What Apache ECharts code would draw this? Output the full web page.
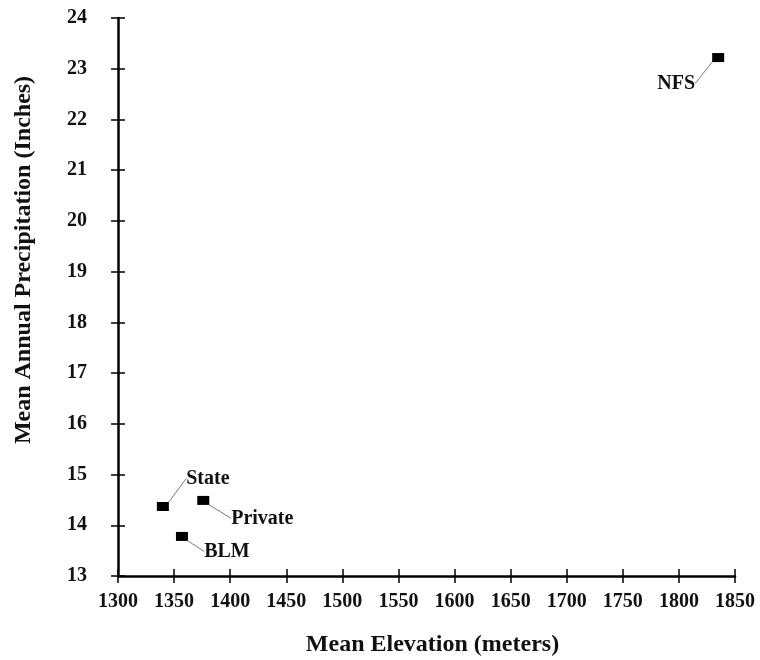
<!DOCTYPE html>
<html><head><meta charset="utf-8">
<script src="https://cdn.jsdelivr.net/npm/echarts@6/dist/echarts.min.js"></script>
<style>html,body{margin:0;padding:0;background:#fff}#c{width:760px;height:660px}</style>
</head><body><div id="c"></div>
<script>
var owners = ['State', 'Private', 'BLM', 'NFS'];
var elevation = [1340, 1376, 1357, 1835];
var precipitation = [14.37, 14.49, 13.78, 23.22];
var xTicks = [1300, 1350, 1400, 1450, 1500, 1550, 1600, 1650, 1700, 1750, 1800, 1850];
var yTicks = [13, 14, 15, 16, 17, 18, 19, 20, 21, 22, 23, 24];
var labelShift = [[45, -28], [59, 18], [45, 15], [-42, 26]];

var FONT = '"Liberation Serif", "DejaVu Serif", serif';
var chart = echarts.init(document.getElementById('c'));
var pts = owners.map(function (n, i) { return { name: n, value: [elevation[i], precipitation[i]] }; });
var tickStyle = { color: '#000', width: 1.5 };
var xMin = xTicks[0], xMax = xTicks[xTicks.length - 1], yMin = yTicks[0], yMax = yTicks[yTicks.length - 1];
chart.setOption({
  animation: false,
  grid: { left: 118, right: 25, top: 18, bottom: 84, containLabel: false, outerBoundsMode: 'none' },
  xAxis: [{
    type: 'value', min: xMin, max: xMax, interval: 50,
    name: 'Mean Elevation (meters)', nameLocation: 'middle', nameGap: 57,
    nameTextStyle: { fontFamily: FONT, fontWeight: 'bold', fontSize: 24, color: '#111', padding: [0, 0, 0, 12] },
    axisLine: { lineStyle: { color: '#000', width: 2.5 } },
    axisTick: { show: true, length: 7, inside: false, lineStyle: tickStyle },
    axisLabel: { fontFamily: FONT, fontWeight: 'bold', fontSize: 20, color: '#111', margin: 16,
      formatter: function (v) { return String(v); } },
    splitLine: { show: false }
  }, {
    type: 'value', min: xMin, max: xMax, interval: 50, position: 'bottom',
    axisLine: { show: false },
    axisTick: { show: true, length: 7, inside: true, lineStyle: tickStyle },
    axisLabel: { show: false }, splitLine: { show: false }
  }],
  yAxis: [{
    type: 'value', min: yMin, max: yMax, interval: 1,
    name: 'Mean Annual Precipitation (Inches)', nameLocation: 'middle', nameGap: 82,
    nameTextStyle: { fontFamily: FONT, fontWeight: 'bold', fontSize: 24, color: '#111', padding: [0, 0, 0, 74] },
    axisLine: { lineStyle: { color: '#000', width: 2.5 } },
    axisTick: { show: true, length: 7, inside: false, lineStyle: tickStyle },
    axisLabel: { fontFamily: FONT, fontWeight: 'bold', fontSize: 20, color: '#111', margin: 31 },
    splitLine: { show: false }
  }, {
    type: 'value', min: yMin, max: yMax, interval: 1, position: 'left',
    axisLine: { show: false },
    axisTick: { show: true, length: 7, inside: true, lineStyle: tickStyle },
    axisLabel: { show: false }, splitLine: { show: false }
  }],
  series: [{
    type: 'scatter',
    xAxisIndex: 0, yAxisIndex: 0,
    symbol: 'rect', symbolSize: [12, 9],
    itemStyle: { color: '#000', opacity: 1 },
    data: pts,
    label: {
      show: true, formatter: '{b}', position: 'inside',
      fontFamily: FONT, fontWeight: 'bold', fontSize: 20, color: '#111'
    },
    labelLine: { show: true, lineStyle: { color: '#777', width: 1 } },
    labelLayout: function (p) {
      var s = labelShift[p.dataIndex];
      return { dx: s[0], dy: s[1] };
    },
    emphasis: { disabled: true }
  }]
});
</script></body></html>
